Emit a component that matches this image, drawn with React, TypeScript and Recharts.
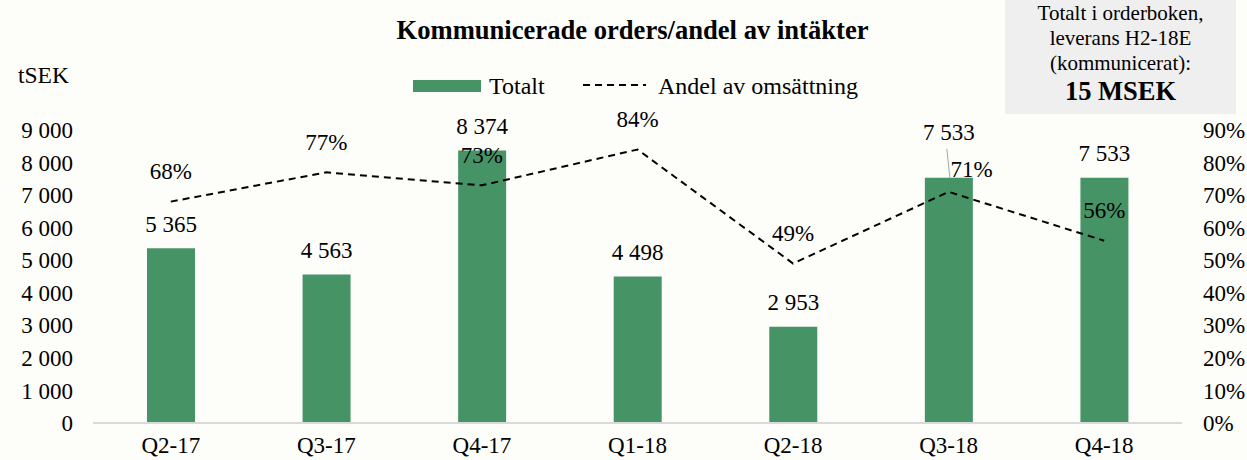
import React from "react";
import {
  ComposedChart,
  Bar,
  Line,
  XAxis,
  YAxis,
  Legend,
  LabelList,
} from "recharts";

const quarters = ["Q2-17", "Q3-17", "Q4-17", "Q1-18", "Q2-18", "Q3-18", "Q4-18"];
const totals = [5365, 4563, 8374, 4498, 2953, 7533, 7533]; // tSEK
const shares = [0.68, 0.77, 0.73, 0.84, 0.49, 0.71, 0.56];

const leftTicks = [0, 1000, 2000, 3000, 4000, 5000, 6000, 7000, 8000, 9000];
const rightTicks = [0, 0.1, 0.2, 0.3, 0.4, 0.5, 0.6, 0.7, 0.8, 0.9];

// label nudges copied from the original (Q3-18 was dragged by hand)
const barLabelRaise = [0, 0, 0, 0, 0, 21, 0];
const shareLabelNudge = [[0, 0], [0, 0], [0, 0], [0, 0], [0, 0], [23, 8], [0, 0]];

const rows = quarters.map((q, i) => ({ quarter: q, total: totals[i], share: shares[i] }));

const serif = '"Liberation Serif", "Times New Roman", serif';
const green = "#469366";

const fmtThousands = (v: number) => {
  const s = String(Math.round(v));
  return s.replace(/\B(?=(\d{3})+(?!\d))/g, " ");
};
const fmtPct = (v: number) => `${Math.round(v * 100)}%`;

const BarValueLabel = (props: any) => {
  const { x, y, width, index, value } = props;
  const cx = x + width / 2;
  const raise = barLabelRaise[index] || 0;
  const cy = y - 24 - raise;
  return (
    <g>
      {raise > 0 && (
        <line x1={cx - 2} y1={cy + 16} x2={cx + 1} y2={y} stroke="#A6A6A6" strokeWidth={1} />
      )}
      <text x={cx} y={cy} textAnchor="middle" dominantBaseline="central" fontFamily={serif} fontSize={23} fill="#000">
        {fmtThousands(value)}
      </text>
    </g>
  );
};

const ShareLabel = (props: any) => {
  const { x, y, index, value } = props;
  const [dx, dy] = shareLabelNudge[index] || [0, 0];
  return (
    <text x={x + dx} y={y - 30 + dy} textAnchor="middle" dominantBaseline="central" fontFamily={serif} fontSize={23} fill="#000">
      {fmtPct(value)}
    </text>
  );
};

const LegendBox = () => (
  <div style={{ position: "relative", height: 30, fontFamily: serif, fontSize: 24, lineHeight: "30px", color: "#000" }}>
    <div style={{ position: "absolute", left: 413, top: 9, width: 68, height: 12, background: green }} />
    <span style={{ position: "absolute", left: 489, top: 0 }}>Totalt</span>
    <svg style={{ position: "absolute", left: 583, top: 0 }} width={64} height={30}>
      <line x1={0} y1={14} x2={63} y2={14} stroke="#000" strokeWidth={2} strokeDasharray="7 5" />
    </svg>
    <span style={{ position: "absolute", left: 658, top: 0 }}>Andel av omsättning</span>
  </div>
);

export default function App() {
  return (
    <div style={{ position: "absolute", left: 0, top: 0, width: 1247, height: 460, background: "#FDFDFA", fontFamily: serif }}>
      <div style={{ position: "absolute", left: 0, top: 15, width: 1265, textAlign: "center", fontSize: 26.6, fontWeight: "bold", lineHeight: "30px" }}>
        Kommunicerade orders/andel av intäkter
      </div>
      <div style={{ position: "absolute", left: 18, top: 60, fontSize: 23.5, lineHeight: "30px" }}>tSEK</div>
      <div style={{ position: "absolute", left: 1005, top: 0, width: 231, height: 113, background: "#EFEFEF", textAlign: "center", paddingTop: 1 }}>
        <div style={{ fontSize: 21, lineHeight: "25px" }}>Totalt i orderboken,</div>
        <div style={{ fontSize: 21, lineHeight: "25px" }}>leverans H2-18E</div>
        <div style={{ fontSize: 21, lineHeight: "25px" }}>(kommunicerat):</div>
        <div style={{ fontSize: 26.5, lineHeight: "30px", fontWeight: "bold" }}>15 MSEK</div>
      </div>
      <ComposedChart
        width={1247}
        height={460}
        data={rows}
        margin={{ top: 130, right: 0, bottom: 0, left: 0 }}
        style={{ position: "absolute", left: 0, top: 0 }}
      >
        <XAxis
          dataKey="quarter"
          interval={0}
          height={37}
          tickLine={false}
          tickSize={0}
          tickMargin={14}
          axisLine={{ stroke: "#D9D9D9", strokeWidth: 2 }}
          tick={{ fill: "#000", fontSize: 23, fontFamily: serif }}
        />
        <YAxis
          yAxisId="left"
          width={93}
          domain={[0, 9000]}
          ticks={leftTicks}
          interval={0}
          axisLine={false}
          tickLine={false}
          tickSize={0}
          tickMargin={20}
          tickFormatter={fmtThousands}
          tick={{ fill: "#000", fontSize: 23, fontFamily: serif }}
        />
        <YAxis
          yAxisId="right"
          orientation="right"
          width={65}
          domain={[0, 0.9]}
          ticks={rightTicks}
          interval={0}
          axisLine={false}
          tickLine={false}
          tickSize={0}
          tickMargin={21}
          tickFormatter={fmtPct}
          tick={{ fill: "#000", fontSize: 23, fontFamily: serif, textAnchor: "start" }}
        />
        <Legend
          layout="horizontal"
          verticalAlign="middle"
          align="center"
          wrapperStyle={{ top: 71, left: 0, width: 1247 }}
          content={() => <LegendBox />}
        />
        <Bar yAxisId="left" dataKey="total" name="Totalt" fill={green} barSize={48} isAnimationActive={false}>
          <LabelList dataKey="total" content={BarValueLabel} />
        </Bar>
        <Line
          yAxisId="right"
          dataKey="share"
          name="Andel av omsättning"
          type="linear"
          stroke="#000"
          strokeWidth={2}
          strokeDasharray="7 5"
          dot={false}
          activeDot={false}
          isAnimationActive={false}
        >
          <LabelList dataKey="share" content={ShareLabel} />
        </Line>
      </ComposedChart>
    </div>
  );
}
